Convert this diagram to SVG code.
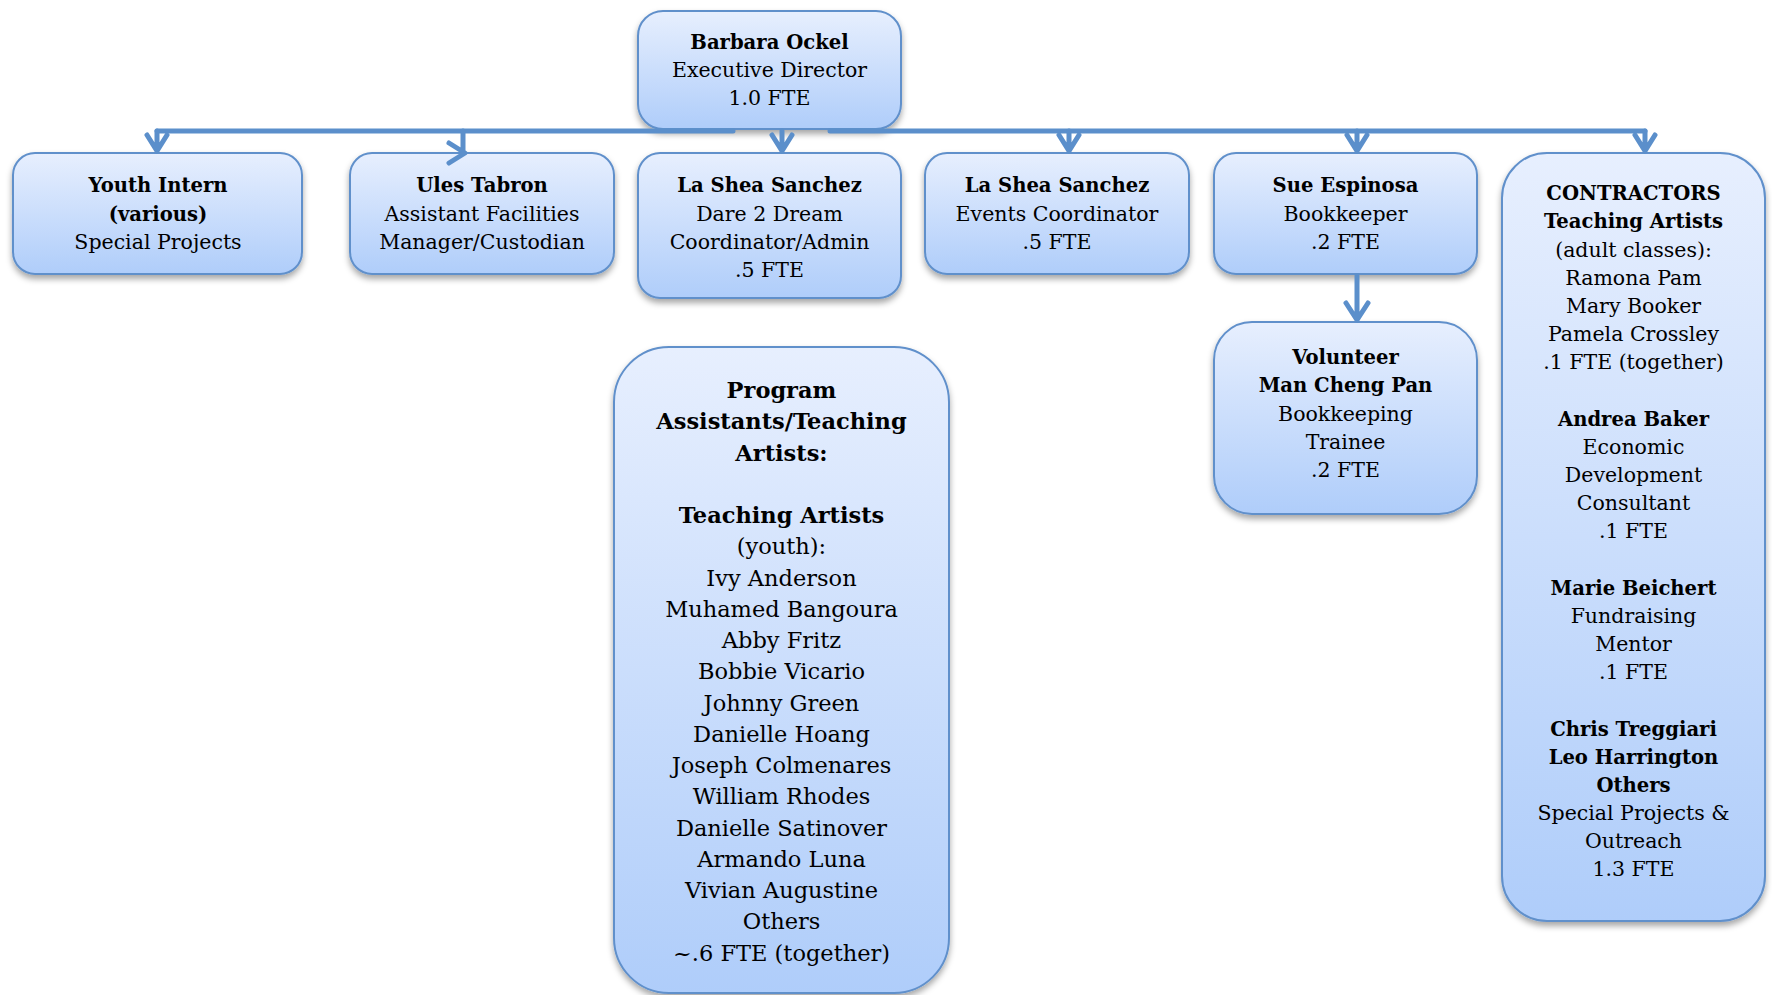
<svg xmlns="http://www.w3.org/2000/svg" width="1772" height="995" viewBox="0 0 1772 995">
<defs>
<linearGradient id="g" x1="0" y1="0" x2="0" y2="1">
<stop offset="0" stop-color="#e7effe"/>
<stop offset="1" stop-color="#afcdfa"/>
</linearGradient>
<filter id="sh" x="-10%" y="-10%" width="120%" height="130%">
<feDropShadow dx="0" dy="4" stdDeviation="3" flood-color="#000" flood-opacity="0.35"/>
</filter>
</defs>
<style>
.box{fill:url(#g);stroke:#6190cb;stroke-width:2;filter:url(#sh)}
text{font-family:"DejaVu Serif","Liberation Serif",serif;font-size:20.5px;fill:#000;text-anchor:middle}
.b{font-weight:bold;font-size:19.6px}
.p text{font-size:22.5px}
.c{fill:none;stroke:#5b8fcb;stroke-width:5;stroke-linecap:round;stroke-linejoin:round}
</style>
<g id="barbara">
<rect class="box" x="638" y="11" width="263" height="118" rx="25"/>
<text x="769.5" y="49" class="b">Barbara Ockel</text>
<text x="769.5" y="77">Executive Director</text>
<text x="769.5" y="105">1.0 FTE</text>
</g>
<g id="youth">
<rect class="box" x="13" y="153" width="289" height="121" rx="22"/>
<text x="158" y="192" class="b">Youth Intern</text>
<text x="158" y="220.5" class="b">(various)</text>
<text x="158" y="249">Special Projects</text>
</g>
<g id="ules">
<rect class="box" x="350" y="153" width="264" height="121" rx="22"/>
<text x="482" y="192" class="b">Ules Tabron</text>
<text x="482" y="220.5">Assistant Facilities</text>
<text x="482" y="249">Manager/Custodian</text>
</g>
<g id="lashea1">
<rect class="box" x="638" y="153" width="263" height="145" rx="22"/>
<text x="769.5" y="192" class="b">La Shea Sanchez</text>
<text x="769.5" y="220.5">Dare 2 Dream</text>
<text x="769.5" y="249">Coordinator/Admin</text>
<text x="769.5" y="277">.5 FTE</text>
</g>
<g id="lashea2">
<rect class="box" x="925" y="153" width="264" height="121" rx="22"/>
<text x="1057" y="192" class="b">La Shea Sanchez</text>
<text x="1057" y="220.5">Events Coordinator</text>
<text x="1057" y="249">.5 FTE</text>
</g>
<g id="sue">
<rect class="box" x="1214" y="153" width="263" height="121" rx="22"/>
<text x="1345.5" y="192" class="b">Sue Espinosa</text>
<text x="1345.5" y="220.5">Bookkeeper</text>
<text x="1345.5" y="249">.2 FTE</text>
</g>
<g id="contractors">
<rect class="box" x="1502" y="153" width="263" height="768" rx="45"/>
<text x="1633.5" y="200" class="b">CONTRACTORS</text>
<text x="1633.5" y="228" class="b">Teaching Artists</text>
<text x="1633.5" y="256.5">(adult classes):</text>
<text x="1633.5" y="284.5">Ramona Pam</text>
<text x="1633.5" y="312.5">Mary Booker</text>
<text x="1633.5" y="341">Pamela Crossley</text>
<text x="1633.5" y="369">.1 FTE (together)</text>
<text x="1633.5" y="425.5" class="b">Andrea Baker</text>
<text x="1633.5" y="453.5">Economic</text>
<text x="1633.5" y="481.5">Development</text>
<text x="1633.5" y="510">Consultant</text>
<text x="1633.5" y="538">.1 FTE</text>
<text x="1633.5" y="594.5" class="b">Marie Beichert</text>
<text x="1633.5" y="622.5">Fundraising</text>
<text x="1633.5" y="650.5">Mentor</text>
<text x="1633.5" y="679">.1 FTE</text>
<text x="1633.5" y="735.5" class="b">Chris Treggiari</text>
<text x="1633.5" y="763.5" class="b">Leo Harrington</text>
<text x="1633.5" y="791.5" class="b">Others</text>
<text x="1633.5" y="820">Special Projects &amp;</text>
<text x="1633.5" y="848">Outreach</text>
<text x="1633.5" y="876">1.3 FTE</text>
</g>
<g id="volunteer">
<rect class="box" x="1214" y="322" width="263" height="192" rx="38"/>
<text x="1345.5" y="364" class="b">Volunteer</text>
<text x="1345.5" y="392" class="b">Man Cheng Pan</text>
<text x="1345.5" y="420.5">Bookkeeping</text>
<text x="1345.5" y="449">Trainee</text>
<text x="1345.5" y="477">.2 FTE</text>
</g>
<g id="program" class="p">
<rect class="box" x="614" y="347" width="335" height="646" rx="55"/>
<text x="781.5" y="398" class="b">Program</text>
<text x="781.5" y="429" class="b">Assistants/Teaching</text>
<text x="781.5" y="460.5" class="b">Artists:</text>
<text x="781.5" y="523" class="b">Teaching Artists</text>
<text x="781.5" y="554">(youth):</text>
<text x="781.5" y="585.5">Ivy Anderson</text>
<text x="781.5" y="616.5">Muhamed Bangoura</text>
<text x="781.5" y="648">Abby Fritz</text>
<text x="781.5" y="679">Bobbie Vicario</text>
<text x="781.5" y="710.5">Johnny Green</text>
<text x="781.5" y="741.5">Danielle Hoang</text>
<text x="781.5" y="773">Joseph Colmenares</text>
<text x="781.5" y="804">William Rhodes</text>
<text x="781.5" y="835.5">Danielle Satinover</text>
<text x="781.5" y="866.5">Armando Luna</text>
<text x="781.5" y="898">Vivian Augustine</text>
<text x="781.5" y="929">Others</text>
<text x="781.5" y="960.5">~.6 FTE (together)</text>
</g>
<g id="connectors">
<path class="c" d="M157 131 H733"/>
<path class="c" d="M830 131 H1645"/>
<path class="c" d="M157 131 V150 M147 135 L157 151 L167 135"/>
<path class="c" d="M463 131 V152 M449 143 L465 153 L449 163"/>
<path class="c" d="M782 131 V150 M772 135 L782 151 L792 135"/>
<path class="c" d="M1069 131 V150 M1059 135 L1069 151 L1079 135"/>
<path class="c" d="M1357 131 V150 M1347 135 L1357 151 L1367 135"/>
<path class="c" d="M1645 131 V150 M1635 135 L1645 151 L1655 135"/>
<path class="c" d="M1357 276 V319 M1346 303 L1357 320 L1368 303"/>
</g>
</svg>
